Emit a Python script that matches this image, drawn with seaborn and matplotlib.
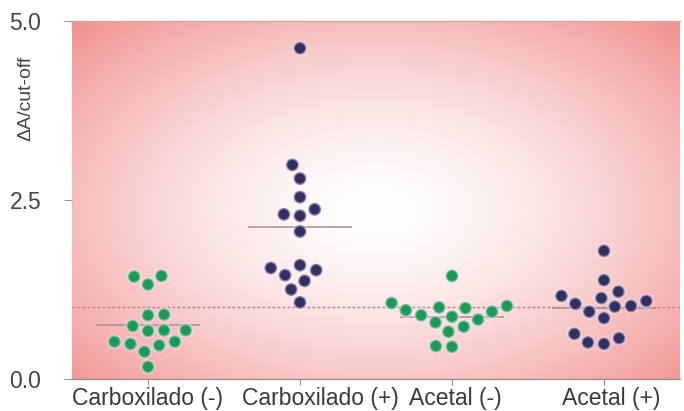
import numpy as np
import pandas as pd
import matplotlib
matplotlib.use("Agg")
import matplotlib.pyplot as plt
import matplotlib.transforms as mtransforms
import seaborn as sns

# Groups shown along the x axis
categories = ["Carboxilado (-)", "Carboxilado (+)", "Acetal (-)", "Acetal (+)"]
signs = ["-", "+", "-", "+"]

# ΔA / cut-off ratio for each serum, per group
carboxilado_neg = [1.44, 1.32, 1.43, 0.89, 0.90, 0.68, 0.67, 0.68, 0.74,
                   0.52, 0.47, 0.38, 0.49, 0.52, 0.17]
carboxilado_pos = [4.62, 2.99, 2.80, 2.54, 2.37, 2.28, 2.30, 2.06, 1.59,
                   1.55, 1.45, 1.52, 1.37, 1.25, 1.07]
acetal_neg = [1.44, 1.02, 0.99, 0.94, 1.06, 0.96, 1.00, 0.83, 0.87,
              0.89, 0.79, 0.73, 0.66, 0.45, 0.46]
acetal_pos = [1.79, 1.38, 1.22, 1.13, 1.09, 1.16, 1.05, 1.02, 1.01,
              0.94, 0.85, 0.57, 0.63, 0.49, 0.51]

cutoff = 1.0
y_ticks = [0.0, 2.5, 5.0]

groups = [carboxilado_neg, carboxilado_pos, acetal_neg, acetal_pos]
df = pd.DataFrame({
    "grupo": np.repeat(categories, [len(g) for g in groups]),
    "signo": np.repeat(signs, [len(g) for g in groups]),
    "valor": np.concatenate(groups),
})
df["grupo"] = pd.Categorical(df["grupo"], categories=categories, ordered=True)

plt.rcParams["font.family"] = ["Liberation Sans", "DejaVu Sans"]

fig = plt.figure(figsize=(6.84, 4.11), dpi=100)
ax = fig.add_axes([72 / 684, 32 / 411, 608 / 684, 358 / 411])

# Radial white-to-pink background
ny, nx = 300, 500
gx, gy = np.meshgrid(np.linspace(0, 1, nx), np.linspace(0, 1, ny))
r = np.sqrt(((gx - 0.5) / 0.5) ** 2 + ((gy - 0.47) / 0.53) ** 2) / np.sqrt(2)
t = np.clip(r, 0, 1) ** 1.5
edge_rgb = np.array([0.945, 0.56, 0.56])
img = (1 - t[..., None]) * np.array([1.0, 1.0, 1.0]) + t[..., None] * edge_rgb
ax.imshow(img, extent=[0, 1, 0, 1], origin="lower", aspect="auto",
          transform=ax.transAxes, zorder=0, interpolation="bilinear")

palette = {"-": "#1e9a56", "+": "#332f5f"}
sns.swarmplot(data=df, x="grupo", y="valor", hue="signo", palette=palette,
              order=categories, size=9.2, linewidth=1.9,
              edgecolor=(0.96, 0.92, 1.0, 0.45), legend=False, ax=ax, zorder=3)

# Cut-off reference line
ax.axhline(cutoff, color="#b08286", lw=1.0, ls=(0, (2.0, 1.6)), zorder=2)

# Group means
means = df.groupby("grupo", observed=True)["valor"].mean()
for i, cat in enumerate(categories):
    ax.hlines(means[cat], i - 0.34, i + 0.34, color="#a89094", lw=1.1, zorder=2)

ax.set_xlim(-0.5, 3.5)
ax.set_ylim(0, 5.0)
ax.set_yticks(y_ticks)
ax.set_yticklabels([f"{v:.1f}" for v in y_ticks])
ax.set_xlabel("")
ax.set_ylabel("ΔA/cut-off", fontsize=14, color="#444444")
ax.yaxis.set_label_coords(-0.062, 0.785)

ax.tick_params(axis="x", labelsize=16.5, colors="#9a9090", labelcolor="#3a3a3a",
               length=4, width=0.8, pad=2)
ax.tick_params(axis="y", labelsize=16.5, colors="#9a9090", labelcolor="#444444",
               length=6, width=0.8, pad=16)

# Nudge the category labels so neighbouring names keep a gap between them
label_shift_px = [0, 20, 3, 7]
for lab, dx in zip(ax.get_xticklabels(), label_shift_px):
    lab.set_transform(lab.get_transform() +
                      mtransforms.ScaledTranslation(dx / 100, 0, fig.dpi_scale_trans))

for side in ["left", "right"]:
    ax.spines[side].set_visible(False)
ax.spines["top"].set_color("#c9aaaa")
ax.spines["top"].set_linewidth(1.0)
ax.spines["bottom"].set_color("#9a9090")
ax.spines["bottom"].set_linewidth(1.0)

fig.savefig("out.png", dpi=100)
